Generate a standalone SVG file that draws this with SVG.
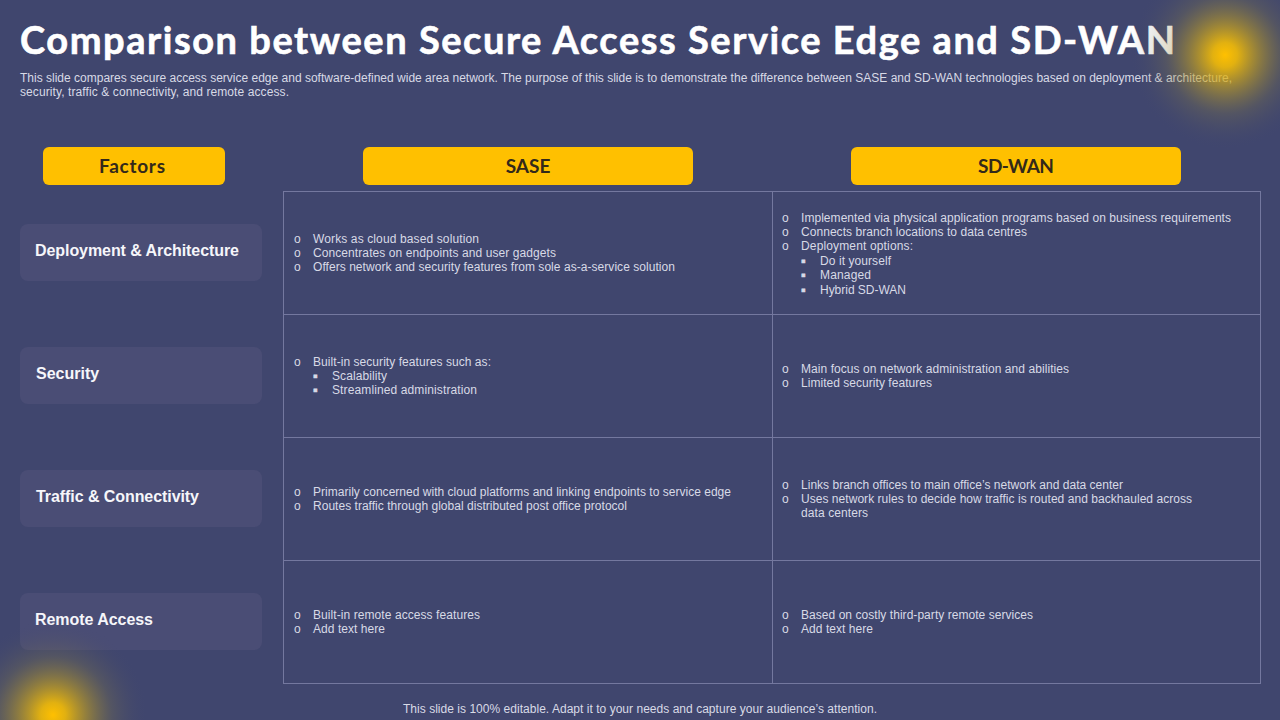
<svg xmlns="http://www.w3.org/2000/svg" width="1280" height="720" viewBox="0 0 1280 720">
<defs>
<radialGradient id="glow"><stop offset="0" stop-color="#ffc000" stop-opacity="1"/><stop offset="0.13" stop-color="#f0ba08" stop-opacity="0.92"/><stop offset="0.35" stop-color="#c8a41e" stop-opacity="0.6"/><stop offset="0.62" stop-color="#8f8240" stop-opacity="0.25"/><stop offset="1" stop-color="#40466e" stop-opacity="0"/></radialGradient>
</defs>
<style>
.b{font-family:"Liberation Sans",Arial,sans-serif;font-size:12px;fill:#d8dae6}
.s{font-family:"Liberation Sans",Arial,sans-serif;font-size:12px;fill:#d8dae6;stroke:#d8dae6;stroke-width:0.8}
.h{font-family:"Lato","Open Sans",sans-serif;font-weight:700;font-size:19px;fill:#33291a;text-anchor:middle}
.f{font-family:"Liberation Sans",Arial,sans-serif;font-weight:700;font-size:16px;fill:#f6f6fa}
.hb{fill:#ffc000}
.fb{fill:#4a4d75}
.g{stroke:#74789f;stroke-width:1;fill:none}
</style>
<rect width="1280" height="720" fill="#40466e"/>
<g id="title">
<text x="20" y="54" font-family="Lato,'Open Sans',sans-serif" font-weight="700" font-size="38" fill="#fff" stroke="#fff" stroke-width="0.6" textLength="1155" lengthAdjust="spacing">Comparison between Secure Access Service Edge and SD-WAN</text>
<text class="b" x="20" y="82" textLength="1212">This slide compares secure access service edge and software-defined wide area network. The purpose of this slide is to demonstrate the difference between SASE and SD-WAN technologies based on deployment &amp; architecture,</text>
<text class="b" x="20" y="96" textLength="269">security, traffic &amp; connectivity, and remote access.</text>
</g>
<g id="head-factors"><rect class="hb" x="43" y="147" width="182" height="38" rx="6"/><text class="h" x="132" y="173" textLength="66">Factors</text></g>
<g id="head-sase"><rect class="hb" x="363" y="147" width="330" height="38" rx="6"/><text class="h" x="528" y="173">SASE</text></g>
<g id="head-sdwan"><rect class="hb" x="851" y="147" width="330" height="38" rx="6"/><text class="h" x="1016" y="173" textLength="76">SD-WAN</text></g>
<g id="factor-1"><rect class="fb" x="20" y="224" width="242" height="57" rx="8"/><text class="f" x="35" y="256" textLength="204">Deployment &amp; Architecture</text></g>
<g id="factor-2"><rect class="fb" x="20" y="347" width="242" height="57" rx="8"/><text class="f" x="36" y="379">Security</text></g>
<g id="factor-3"><rect class="fb" x="20" y="470" width="242" height="57" rx="8"/><text class="f" x="36" y="502" textLength="163">Traffic &amp; Connectivity</text></g>
<g id="factor-4"><rect class="fb" x="20" y="593" width="242" height="57" rx="8"/><text class="f" x="35" y="625" textLength="118">Remote Access</text></g>
<g id="grid">
<rect class="g" x="283.500" y="191.500" width="977" height="492"/>
<path class="g" d="M772.500 191.500V683.500M283.500 314.500H1260.500M283.500 437.500H1260.500M283.500 560.500H1260.500"/>
</g>
<g id="cell-sase-1">
<text class="b" x="294" y="243">o</text><text class="b" x="313" y="243" textLength="166">Works as cloud based solution</text>
<text class="b" x="294" y="257">o</text><text class="b" x="313" y="257" textLength="243">Concentrates on endpoints and user gadgets</text>
<text class="b" x="294" y="271">o</text><text class="b" x="313" y="271" textLength="362">Offers network and security features from sole as-a-service solution</text>
</g>
<g id="cell-sdwan-1">
<text class="b" x="782" y="222">o</text><text class="b" x="801" y="222" textLength="430">Implemented via physical application programs based on business requirements</text>
<text class="b" x="782" y="236">o</text><text class="b" x="801" y="236" textLength="226">Connects branch locations to data centres</text>
<text class="b" x="782" y="250">o</text><text class="b" x="801" y="250" textLength="112">Deployment options:</text>
<text class="s" x="801" y="265">▪</text><text class="b" x="820" y="265" textLength="71">Do it yourself</text>
<text class="s" x="801" y="279">▪</text><text class="b" x="820" y="279" textLength="51">Managed</text>
<text class="s" x="801" y="294">▪</text><text class="b" x="820" y="294" textLength="86">Hybrid SD-WAN</text>
</g>
<g id="cell-sase-2">
<text class="b" x="294" y="366">o</text><text class="b" x="313" y="366" textLength="178">Built-in security features such as:</text>
<text class="s" x="313" y="380">▪</text><text class="b" x="332" y="380" textLength="55">Scalability</text>
<text class="s" x="313" y="394">▪</text><text class="b" x="332" y="394" textLength="145">Streamlined administration</text>
</g>
<g id="cell-sdwan-2">
<text class="b" x="782" y="373">o</text><text class="b" x="801" y="373" textLength="268">Main focus on network administration and abilities</text>
<text class="b" x="782" y="387">o</text><text class="b" x="801" y="387" textLength="131">Limited security features</text>
</g>
<g id="cell-sase-3">
<text class="b" x="294" y="496">o</text><text class="b" x="313" y="496" textLength="418">Primarily concerned with cloud platforms and linking endpoints to service edge</text>
<text class="b" x="294" y="510">o</text><text class="b" x="313" y="510" textLength="314">Routes traffic through global distributed post office protocol</text>
</g>
<g id="cell-sdwan-3">
<text class="b" x="782" y="489">o</text><text class="b" x="801" y="489" textLength="322">Links branch offices to main office’s network and data center</text>
<text class="b" x="782" y="503">o</text><text class="b" x="801" y="503" textLength="391">Uses network rules to decide how traffic is routed and backhauled across</text>
<text class="b" x="801" y="517" textLength="67">data centers</text>
</g>
<g id="cell-sase-4">
<text class="b" x="294" y="619">o</text><text class="b" x="313" y="619" textLength="167">Built-in remote access features</text>
<text class="b" x="294" y="633">o</text><text class="b" x="313" y="633" textLength="72">Add text here</text>
</g>
<g id="cell-sdwan-4">
<text class="b" x="782" y="619">o</text><text class="b" x="801" y="619" textLength="232">Based on costly third-party remote services</text>
<text class="b" x="782" y="633">o</text><text class="b" x="801" y="633" textLength="72">Add text here</text>
</g>
<text class="b" x="403" y="713" textLength="474">This slide is 100% editable. Adapt it to your needs and capture your audience’s attention.</text>
<g id="glows">
<circle cx="1225" cy="55" r="95" fill="url(#glow)"/>
<circle cx="53" cy="715" r="95" fill="url(#glow)"/>
</g>
</svg>
